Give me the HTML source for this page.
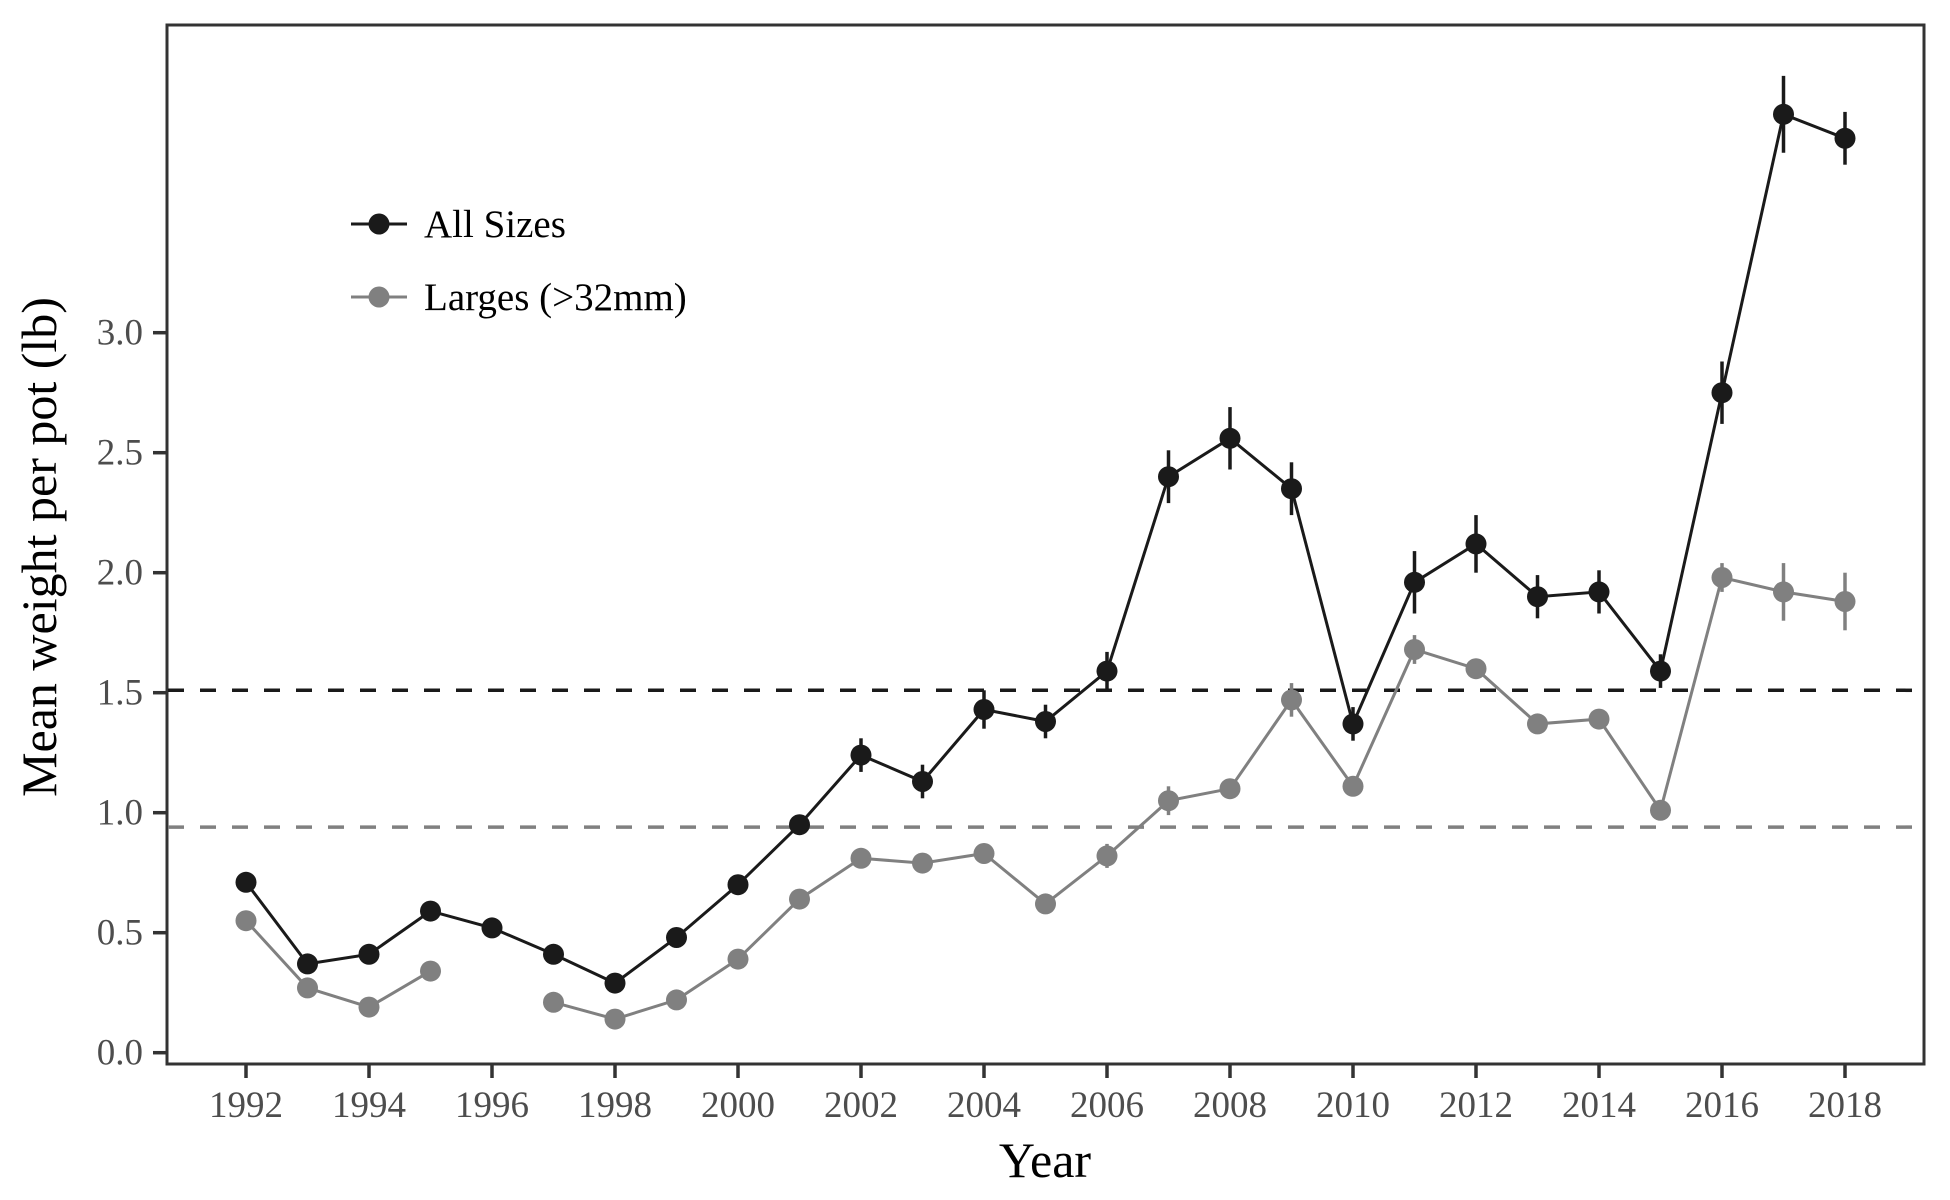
<!DOCTYPE html>
<html><head><meta charset="utf-8"><style>
html,body{margin:0;padding:0;background:#fff;}
svg{display:block;font-family:"Liberation Serif",serif;}
</style></head><body>
<svg id="chart" width="1950" height="1200" viewBox="0 0 1950 1200">
<rect x="167" y="25" width="1757" height="1039" fill="#fff" stroke="#333" stroke-width="3"/>
<g id="axes"></g>
<g id="reflines"></g>
<g id="series"></g>
<text x="56" y="547" transform="rotate(-90 56 547)" text-anchor="middle" font-size="50" fill="#000">Mean weight per pot (lb)</text>
<text x="1045" y="1177" text-anchor="middle" font-size="50" fill="#000">Year</text>
<g>
<g>
<line x1="351" y1="224" x2="407" y2="224" stroke="#1a1a1a" stroke-width="3"/>
<circle cx="379" cy="224" r="10.5" fill="#1a1a1a"/>
<text x="424" y="237" font-size="39" fill="#000">All Sizes</text></g>
<g>
<line x1="351" y1="297" x2="407" y2="297" stroke="#808080" stroke-width="3"/>
<circle cx="379" cy="297" r="10.5" fill="#808080"/>
<text x="424" y="310" font-size="39" fill="#000">Larges (&gt;32mm)</text></g>
</g>
</svg>
<script>
const years=[1992,1993,1994,1995,1996,1997,1998,1999,2000,2001,2002,2003,2004,2005,2006,2007,2008,2009,2010,2011,2012,2013,2014,2015,2016,2017,2018];
const allSizes=[0.71,0.37,0.41,0.59,0.52,0.41,0.29,0.48,0.70,0.95,1.24,1.13,1.43,1.38,1.59,2.40,2.56,2.35,1.37,1.96,2.12,1.90,1.92,1.59,2.75,3.91,3.81];
const allErr=[0.02,0.02,0.02,0.02,0.02,0.02,0.02,0.02,0.03,0.03,0.07,0.07,0.08,0.07,0.08,0.11,0.13,0.11,0.07,0.13,0.12,0.09,0.09,0.07,0.13,0.16,0.11];
const larges=[0.55,0.27,0.19,0.34,null,0.21,0.14,0.22,0.39,0.64,0.81,0.79,0.83,0.62,0.82,1.05,1.10,1.47,1.11,1.68,1.60,1.37,1.39,1.01,1.98,1.92,1.88];
const largesErr=[0.02,0.02,0.02,0.02,0,0.02,0.02,0.02,0.02,0.03,0.03,0.03,0.03,0.03,0.05,0.06,0.04,0.07,0.04,0.06,0.04,0.03,0.04,0.03,0.06,0.12,0.12];
const refLines=[1.51,0.94];
const yTicks=[0,0.5,1,1.5,2,2.5,3];
const xTicks=[1992,1994,1996,1998,2000,2002,2004,2006,2008,2010,2012,2014,2016,2018];
const NS="http://www.w3.org/2000/svg";
const xs=y=>246+(y-1992)*61.5;
const ys=v=>1052.7-v*240;
function mk(tag,attrs,parent){const e=document.createElementNS(NS,tag);for(const k in attrs)e.setAttribute(k,attrs[k]);parent.appendChild(e);return e;}
const axes=document.getElementById('axes');
yTicks.forEach(t=>{
 const l=mk('line',{x1:153,x2:167,y1:ys(t),y2:ys(t),stroke:'#333','stroke-width':3.5},axes);
 
 
 const tx=mk('text',{x:143,y:ys(t)+12,'text-anchor':'end','font-size':37,fill:'#4d4d4d'},axes);
 tx.textContent=t.toFixed(1);
 
 
});
xTicks.forEach(t=>{
 const l=mk('line',{x1:xs(t),x2:xs(t),y1:1064,y2:1078,stroke:'#333','stroke-width':3.5},axes);
 
 
 const tx=mk('text',{x:xs(t),y:1117,'text-anchor':'middle','font-size':37,fill:'#4d4d4d'},axes);
 tx.textContent=t;
 
 
});
const rl=document.getElementById('reflines');
const refColors=['#1a1a1a','#808080'];
refLines.forEach((v,i)=>{
 const l=mk('line',{x1:168,x2:1923,y1:ys(v),y2:ys(v),stroke:refColors[i],'stroke-width':3.5,'stroke-dasharray':'16,16'},rl);
 
 
});
const sg=document.getElementById('series');
function drawSeries(vals,errs,color,name){
 const g=mk('g',{},sg);
 
 
 let seg=[];const segs=[];
 vals.forEach((v,i)=>{if(v===null){if(seg.length)segs.push(seg);seg=[];}else seg.push([xs(years[i]),ys(v)]);});
 if(seg.length)segs.push(seg);
 segs.forEach(s=>{
  const p=mk('polyline',{points:s.map(q=>q.join(',')).join(' '),fill:'none',stroke:color,'stroke-width':3},g);
  
  
 });
 vals.forEach((v,i)=>{
  if(v===null)return;
  const e=mk('line',{x1:xs(years[i]),x2:xs(years[i]),y1:ys(v-errs[i]),y2:ys(v+errs[i]),stroke:color,'stroke-width':3.5},g);
  
  
  const c=mk('circle',{cx:xs(years[i]),cy:ys(v),r:10.5,fill:color},g);
  
  
 });
}
drawSeries(larges,largesErr,'#808080','larges');
drawSeries(allSizes,allErr,'#1a1a1a','all-sizes');
</script>
</body></html>
